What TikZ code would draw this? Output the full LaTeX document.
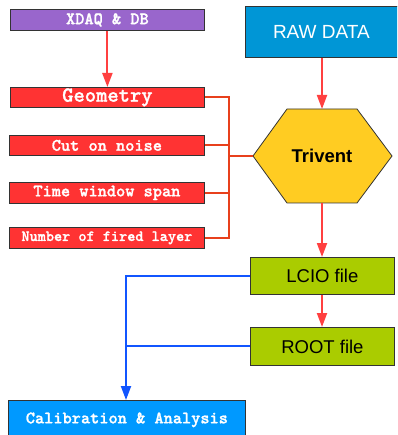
\documentclass[tikz,border=0pt]{standalone}
\usepackage{fontspec}
\setmainfont{Liberation Sans}
\newfontfamily\courb{lmmonolt10-bold.otf}[FakeBold=1.2]
\usetikzlibrary{arrows.meta}
\definecolor{boxpurple}{HTML}{9966CC}
\definecolor{boxred}{HTML}{FF3333}
\definecolor{rawblue}{HTML}{0096D6}
\definecolor{calblue}{HTML}{0099FF}
\definecolor{hexyellow}{HTML}{FFCC22}
\definecolor{filegreen}{HTML}{AACC00}
\definecolor{arrowred}{HTML}{FF4040}
\definecolor{busred}{HTML}{E8401C}
\definecolor{lineblue}{HTML}{1155FF}
\definecolor{edge}{HTML}{333333}
\newcommand\typefont[1]{\courb\fontsize{#1}{#1}\selectfont}
\tikzset{
  pbox/.style={draw=edge, line width=0.8pt, inner sep=0pt, anchor=north west},
  monotext/.style={text=white},
  redarrow/.style={draw=arrowred, line width=2pt, -{Triangle[width=10pt,length=14pt]}},
  busline/.style={draw=busred, line width=1.8pt},
  bluearrow/.style={draw=lineblue, line width=2pt, -{Triangle[width=10pt,length=14pt]}},
  blueline/.style={draw=lineblue, line width=2pt},
}
\begin{document}
\begin{tikzpicture}[x=1pt,y=-1pt]
\useasboundingbox (0,0) rectangle (397,435);
\clip (0,0) rectangle (397,435);
% left column: parameter boxes
\node[pbox, fill=boxpurple, minimum width=194pt, minimum height=21pt, monotext, font=\typefont{17.5}] (xdaq) at (10,9) {XDAQ \& DB};
\node[pbox, fill=boxred, minimum width=194pt, minimum height=20pt, monotext, font=\typefont{21.5}] (geo) at (10,87) {Geometry};
\node[pbox, fill=boxred, minimum width=195pt, minimum height=20pt, monotext, font=\typefont{17.5}] (cut) at (9,135) {Cut on noise};
\node[pbox, fill=boxred, minimum width=195pt, minimum height=21pt, monotext, font=\typefont{17.5}] (twin) at (9,182) {Time window span};
\node[pbox, fill=boxred, minimum width=195pt, minimum height=21pt, monotext, font=\typefont{15.5}] (nfl) at (9,227) {Number of fired layer};
% right column: data flow
\node[pbox, fill=rawblue, minimum width=160pt, minimum height=51pt, text=white, font=\fontsize{19}{20}\selectfont] (raw) at (245,6) {\hspace*{-8pt}RAW DATA};
\path[draw=edge, line width=0.8pt, fill=hexyellow] (253,156) -- (287,109) -- (357,109) -- (392,156) -- (357,203) -- (287,203) -- cycle;
\node[font=\bfseries\fontsize{18.5}{19}\selectfont] (trivent) at (322,156) {Trivent};
\coordinate (triL) at (253,156);
\coordinate (triT) at (322,109);
\coordinate (triB) at (322,203);
\node[pbox, fill=filegreen, minimum width=144pt, minimum height=37pt, font=\fontsize{18.5}{19}\selectfont] (lcio) at (250,257) {LCIO file};
\node[pbox, fill=filegreen, minimum width=144pt, minimum height=38pt, font=\fontsize{18.5}{19}\selectfont] (root) at (250,327) {ROOT file};
\node[pbox, fill=calblue, minimum width=237pt, minimum height=45pt, monotext, font=\typefont{17.5}] (cal) at (8,400) {\raisebox{10pt}{Calibration \& Analysis}};
% connectors
\coordinate (bus) at (229,156);
\draw[redarrow] (xdaq.south) -- (geo.north);
\draw[redarrow] (raw.south -| triT) -- (triT);
\draw[redarrow] (triB) -- (lcio.north -| triB);
\draw[redarrow] (lcio.south -| triB) -- (root.north -| triB);
\draw[busline] (geo.east) -| (bus);
\draw[busline] (nfl.east) -| (bus);
\draw[busline] (cut.east) -- (cut.east -| bus);
\draw[busline] (twin.east) -- (twin.east -| bus);
\draw[busline] (bus) -- (triL);
\coordinate (blueX) at (126,400);
\draw[blueline] (root.west) -- (root.west -| blueX);
\draw[bluearrow] (lcio.west) -| (blueX);
\end{tikzpicture}
\end{document}
